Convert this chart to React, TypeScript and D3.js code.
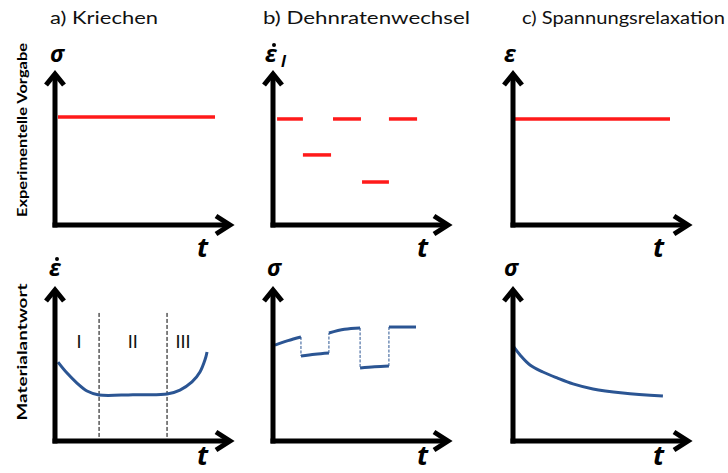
import React from "react";
import * as d3 from "d3";

// Panel titles and row captions
const PANEL_TITLES = ["a) Kriechen", "b) Dehnratenwechsel", "c) Spannungsrelaxation"];
const ROW_LABELS = ["Experimentelle Vorgabe", "Materialantwort"];

// Imposed loading (top row), in % of axis length
const creepStressT = [1.7, 90.4];
const creepStressLevel = [70.6, 70.6];

const rateStepStart = [2.3, 16.9, 33.9, 50.3, 65.5];
const rateStepEnd = [16.9, 32.8, 49.7, 65.5, 81.4];
const rateStepLevel = [69.3, 45.8, 69.3, 28.1, 69.3];

const relaxStrainT = [0.6, 88.7];
const relaxStrainLevel = [69.3, 69.3];

// Material response (bottom row)
const creepRateT = [1.7, 6.8, 12.4, 18.1, 24.9, 44, 63.3, 70.6, 77.4, 81.9, 84.7, 85.9];
const creepRate = [51.6, 44.4, 37.9, 32.7, 30.1, 30.3, 30.7, 33.3, 38.6, 45.1, 52.9, 58.2];
const stageBounds = [24.9, 63.3];
const stageNames = ["I", "II", "III"];
const stageNameT = [13.6, 44, 72.3];

const respSegT0 = [1.1, 15.8, 31.6, 49.2, 65.5];
const respSegT1 = [15.8, 31.6, 49.2, 65.5, 80.8];
const respSig0 = [62.7, 55.6, 70.6, 47.7, 74.5];
const respSigMid = [65.6, 56.7, 73.0, 48.5, 74.5];
const respSig1 = [68.0, 57.5, 73.9, 49.0, 74.5];

const relaxT = [0, 4, 9.6, 16.9, 24.9, 33.9, 45.2, 62.1, 84.7];
const relaxSigma = [62.1, 56.2, 49.7, 45.1, 41.2, 37.3, 34.0, 31.4, 29.4];

const RED = "#ff1a1a";
const BLUE = "#2b5593";
const SYM_FONT = "'Open Sans', 'DejaVu Sans', sans-serif";
const TEXT_FONT = "Lato, 'Open Sans', sans-serif";

const W = 728;
const H = 473;
const AX_LEN = 177;
const AX_H = 153;
const ROW_BASE = [225, 441];
const ROW_T_OFFSET = [32, 24];
const COL_X = [55, 273, 513];

type Scales = { x: d3.ScaleLinear<number, number>; y: d3.ScaleLinear<number, number>; row: number };

function makeScales(col: number, row: number): Scales {
  const x0 = COL_X[col];
  const y0 = ROW_BASE[row];
  return {
    x: d3.scaleLinear().domain([0, 100]).range([x0, x0 + AX_LEN]),
    y: d3.scaleLinear().domain([0, 100]).range([y0, y0 - AX_H]),
    row,
  };
}

function Axes({ s, yLabel, tLabelDx }: { s: Scales; yLabel: React.ReactNode; tLabelDx?: number }) {
  const x0 = s.x(0);
  const y0 = s.y(0);
  const top = y0 - AX_H;
  const right = s.x(100);
  const sw = 5;
  return (
    <g>
      <line x1={x0} y1={top + 2} x2={x0} y2={y0 + sw / 2} stroke="#000" strokeWidth={sw} />
      <line x1={x0 - sw / 2} y1={y0} x2={right - 2} y2={y0} stroke="#000" strokeWidth={sw} />
      <polyline
        points={`${x0 - 9},${top + 13} ${x0},${top + 2} ${x0 + 9},${top + 13}`}
        fill="none"
        stroke="#000"
        strokeWidth={sw}
      />
      <polyline
        points={`${right - 16},${y0 - 9} ${right - 2},${y0} ${right - 16},${y0 + 9}`}
        fill="none"
        stroke="#000"
        strokeWidth={sw}
      />
      {yLabel}
      <text
        x={x0 + 142 + (tLabelDx ?? 0)}
        y={y0 + ROW_T_OFFSET[s.row]}
        fontFamily={SYM_FONT}
        fontWeight={700}
        fontStyle="italic"
        fontSize={27}
      >
        t
      </text>
    </g>
  );
}

function SymLabel({ x, y, children }: { x: number; y: number; children: React.ReactNode }) {
  return (
    <text x={x} y={y} fontFamily={SYM_FONT} fontWeight={700} fontStyle="italic" fontSize={23}>
      {children}
    </text>
  );
}

export default function App() {
  const topA = makeScales(0, 0);
  const topB = makeScales(1, 0);
  const topC = makeScales(2, 0);
  const botA = makeScales(0, 1);
  const botB = makeScales(1, 1);
  const botC = makeScales(2, 1);

  const lineOf = (s: Scales, curve: d3.CurveFactory = d3.curveLinear) =>
    d3
      .line<[number, number]>()
      .x((d) => s.x(d[0]))
      .y((d) => s.y(d[1]))
      .curve(curve);

  const creepPath = lineOf(botA, d3.curveCatmullRom)(
    creepRateT.map((t, i) => [t, creepRate[i]] as [number, number])
  );
  const relaxPath = lineOf(botC, d3.curveCatmullRom)(
    relaxT.map((t, i) => [t, relaxSigma[i]] as [number, number])
  );
  const respLine = lineOf(botB, d3.curveCatmullRom);

  return (
    <svg
      width={W}
      height={H}
      style={{ position: "absolute", left: 0, top: 0, background: "#fff" }}
      xmlns="http://www.w3.org/2000/svg"
    >
      <rect width={W} height={H} fill="#fff" />

      {/* column titles */}
      {PANEL_TITLES.map((t, i) => (
        <text
          key={t}
          x={[50, 263, 522][i]}
          y={24}
          fontFamily={TEXT_FONT}
          fontSize={18}
          textLength={[108, 207, 203][i]}
          lengthAdjust="spacingAndGlyphs"
          fill="#111"
        >
          {t}
        </text>
      ))}

      {/* row captions */}
      {ROW_LABELS.map((t, i) => {
        const cy = [130, 352][i];
        return (
          <text
            key={t}
            transform={`translate(27,${cy}) rotate(-90)`}
            textAnchor="middle"
            fontFamily={TEXT_FONT}
            fontWeight={700}
            fontSize={14}
            textLength={[174, 137][i]}
            lengthAdjust="spacingAndGlyphs"
          >
            {t}
          </text>
        );
      })}

      {/* a) creep: constant stress */}
      <line
        x1={topA.x(creepStressT[0])}
        x2={topA.x(creepStressT[1])}
        y1={topA.y(creepStressLevel[0])}
        y2={topA.y(creepStressLevel[1])}
        stroke={RED}
        strokeWidth={3.5}
      />
      <Axes s={topA} yLabel={<SymLabel x={50} y={62}>σ</SymLabel>} />

      {/* b) strain rate steps */}
      {rateStepStart.map((t0, i) => (
        <line
          key={i}
          x1={topB.x(t0)}
          x2={topB.x(rateStepEnd[i])}
          y1={topB.y(rateStepLevel[i])}
          y2={topB.y(rateStepLevel[i])}
          stroke={RED}
          strokeWidth={3.5}
        />
      ))}
      <Axes
        s={topB}
        yLabel={
          <g>
            <SymLabel x={265} y={62}>ε</SymLabel>
            <circle cx={274} cy={45} r={2} fill="#000" />
            <text x={281} y={67} fontFamily={SYM_FONT} fontWeight={700} fontStyle="italic" fontSize={16}>
              l
            </text>
          </g>
        }
        tLabelDx={2}
      />

      {/* c) relaxation: constant strain */}
      <line
        x1={topC.x(relaxStrainT[0])}
        x2={topC.x(relaxStrainT[1])}
        y1={topC.y(relaxStrainLevel[0])}
        y2={topC.y(relaxStrainLevel[1])}
        stroke={RED}
        strokeWidth={3.5}
      />
      <Axes s={topC} yLabel={<SymLabel x={504} y={62}>ε</SymLabel>} tLabelDx={-2} />

      {/* a) creep rate response */}
      {stageBounds.map((b) => (
        <line
          key={b}
          x1={botA.x(b)}
          x2={botA.x(b)}
          y1={botA.y(83.7)}
          y2={botA.y(0)}
          stroke="#000"
          strokeWidth={1}
          strokeDasharray="4,2"
        />
      ))}
      {stageNames.map((n, i) => (
        <text
          key={n}
          x={botA.x(stageNameT[i])}
          y={botA.y(60.8)}
          textAnchor="middle"
          fontFamily={TEXT_FONT}
          fontSize={18}
          fill="#111"
        >
          {n}
        </text>
      ))}
      <path d={creepPath ?? ""} fill="none" stroke={BLUE} strokeWidth={3} />
      <Axes
        s={botA}
        yLabel={
          <g>
            <SymLabel x={49} y={276}>ε</SymLabel>
            <circle cx={57} cy={259} r={2} fill="#000" />
          </g>
        }
      />

      {/* b) stress response to rate steps */}
      {respSegT0.map((t0, i) => {
        const t1 = respSegT1[i];
        const pts: [number, number][] = [
          [t0, respSig0[i]],
          [(t0 + t1) / 2, respSigMid[i]],
          [t1, respSig1[i]],
        ];
        return <path key={i} d={respLine(pts) ?? ""} fill="none" stroke={BLUE} strokeWidth={3} />;
      })}
      {respSegT1.slice(0, -1).map((t1, i) => (
        <line
          key={`j${i}`}
          x1={botB.x(t1)}
          x2={botB.x(respSegT0[i + 1])}
          y1={botB.y(respSig1[i])}
          y2={botB.y(respSig0[i + 1])}
          stroke={BLUE}
          strokeWidth={1}
          strokeDasharray="3,1.5"
        />
      ))}
      <Axes s={botB} yLabel={<SymLabel x={267} y={276}>σ</SymLabel>} tLabelDx={2} />

      {/* c) stress relaxation response */}
      <path d={relaxPath ?? ""} fill="none" stroke={BLUE} strokeWidth={3} />
      <Axes s={botC} yLabel={<SymLabel x={504} y={276}>σ</SymLabel>} tLabelDx={-2} />
    </svg>
  );
}
